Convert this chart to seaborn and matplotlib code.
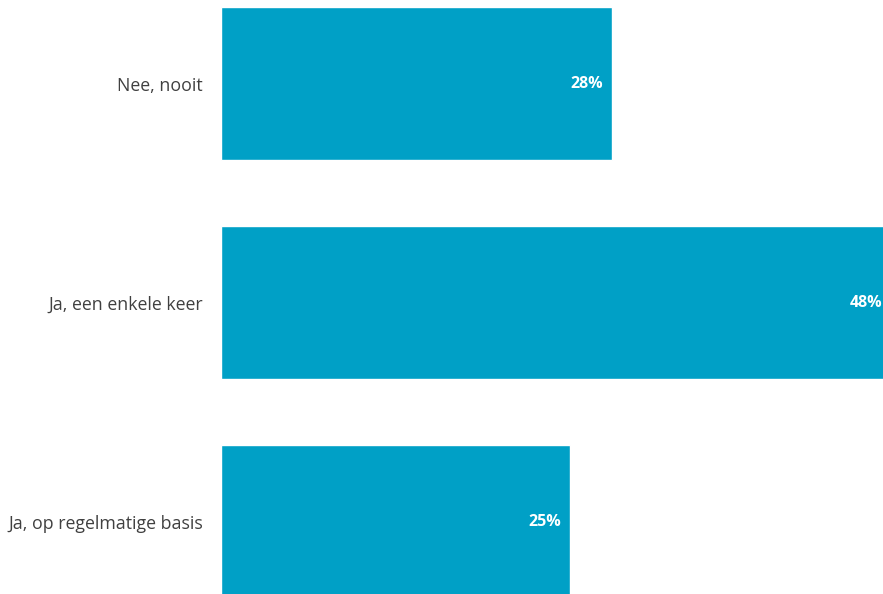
import matplotlib
matplotlib.use("Agg")
import matplotlib.pyplot as plt
import seaborn as sns
import pandas as pd

categories = ["Nee, nooit", "Ja, een enkele keer", "Ja, op regelmatige basis"]
values = [28, 48, 25]
labels = ["28%", "48%", "25%"]

sns.set_theme(style="white")
plt.rcParams['font.family'] = ['Open Sans', 'DejaVu Sans']

df = pd.DataFrame({"cat": categories, "val": values})

fig = plt.figure(figsize=(8.83, 5.94), dpi=100)
ax = fig.add_axes([221/883, 0, 662/883, 587/594])
sns.barplot(data=df, y="cat", x="val", orient="h", color="#00A0C6",
            saturation=1, width=0.70, ax=ax)
ax.set_xlim(0, 47.4)
ax.set_ylim(2.33, -0.35)
for p, lab in zip(ax.patches, labels):
    ax.text(p.get_x() + p.get_width() - 0.62, p.get_y() + p.get_height() / 2, lab,
            ha="right", va="center", color="white", fontsize=11.5, fontweight="bold",
            clip_on=False)
ax.set_xlabel("")
ax.set_ylabel("")
ax.set_xticks([])
ax.tick_params(axis="y", length=0, pad=13, labelsize=12.8, labelcolor="#404040")
for s in ax.spines.values():
    s.set_visible(False)
fig.savefig("out.png", dpi=100)
